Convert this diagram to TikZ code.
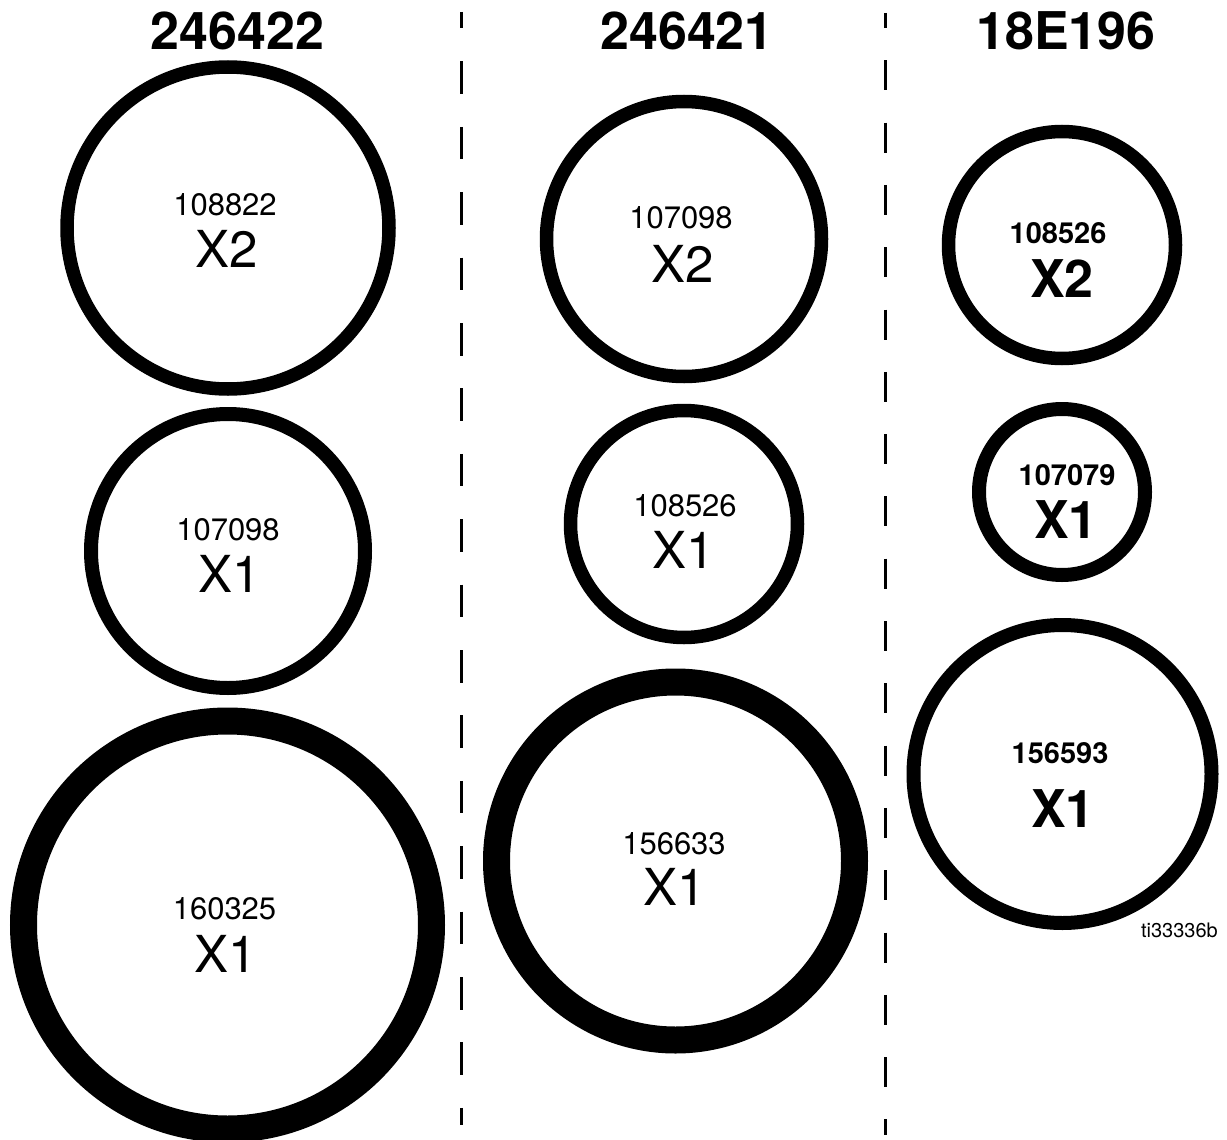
\documentclass[tikz,border=0pt]{standalone}
\usepackage{fontspec}
\setmainfont{TeX Gyre Heros}
\usetikzlibrary{positioning}

\begin{document}
\begin{tikzpicture}[x=1pt, y=-1pt]
\tikzstyle{ring}=[draw=black,circle,inner sep=0pt,line width=13.5pt]
\tikzstyle{heavyring}=[ring,line width=27pt]
\tikzstyle{kit}=[anchor=base,inner sep=0pt,font=\fontsize{52}{52}\selectfont\bfseries]
\tikzstyle{partno}=[anchor=base,inner sep=0pt,font=\fontsize{31}{31}\selectfont]
\tikzstyle{qty}=[anchor=base,inner sep=0pt,font=\fontsize{51}{51}\selectfont]
\tikzstyle{divider}=[draw=black,line width=3pt]
\useasboundingbox (0,0) rectangle (1227,1140);

% kit headings
\node[kit] (kitA) at (237.5,50) {246422};
\node[kit] (kitB) at (687,50) {246421};
\node[kit] (kitC) at (1066,50) {18E196};

% dividers
\coordinate (divAtop) at (461,12);
\coordinate (divAbot) at (461,1125);
\coordinate (divBtop) at (885,13);
\coordinate (divBbot) at (885,1135);
\draw[divider,dash pattern=on 32.5pt off 32.9pt,dash phase=16pt] (divAtop) -- (divAbot);
\draw[divider,dash pattern=on 30pt off 32.3pt,dash phase=15pt] (divBtop) -- (divBbot);

% kit 246422
\node[ring,minimum size=322pt] (ringA1) at (228,228) {};
\node[partno] (ringA1no) at (225,215) {108822};
\node[qty] (ringA1qty) at (227,267) {X2};
\node[ring,line width=14pt,minimum size=274pt] (ringA2) at (228,551) {};
\node[partno] (ringA2no) at (228,540) {107098};
\node[qty] (ringA2qty) at (230,592) {X1};
\node[heavyring,minimum size=408pt] (ringA3) at (227.5,925) {};
\node[partno] (ringA3no) at (224.5,919) {160325};
\node[qty] (ringA3qty) at (226,972) {X1};

% kit 246421
\node[ring,minimum size=275pt] (ringB1) at (684,239) {};
\node[partno] (ringB1no) at (681,228) {107098};
\node[qty] (ringB1qty) at (683,282) {X2};
\node[ring,minimum size=227pt] (ringB2) at (684,524) {};
\node[partno] (ringB2no) at (685,516) {108526};
\node[qty] (ringB2qty) at (683.5,568) {X1};
\node[heavyring,minimum size=358pt] (ringB3) at (675.5,861) {};
\node[partno] (ringB3no) at (674,854) {156633};
\node[qty] (ringB3qty) at (674.5,905) {X1};

% kit 18E196
\node[ring,minimum size=227pt] (ringC1) at (1062,245) {};
\node[partno,font=\fontsize{29}{29}\selectfont\bfseries] (ringC1no) at (1058,243) {108526};
\node[qty,font=\fontsize{52}{52}\selectfont\bfseries] (ringC1qty) at (1062,297) {X2};
\node[ring,line width=14pt,minimum size=166pt] (ringC2) at (1062,492) {};
\node[partno,font=\fontsize{29}{29}\selectfont\bfseries] (ringC2no) at (1067,485) {107079};
\node[qty,font=\fontsize{52}{52}\selectfont\bfseries] (ringC2qty) at (1066,538) {X1};
\node[ring,line width=14pt,minimum size=298pt] (ringC3) at (1062.5,774) {};
\node[partno,font=\fontsize{29}{29}\selectfont\bfseries] (ringC3no) at (1060,763) {156593};
\node[qty,font=\fontsize{52}{52}\selectfont\bfseries] (ringC3qty) at (1063,827) {X1};

\node[anchor=base east,inner sep=0pt,font=\fontsize{20}{20}\selectfont] (figref) at (1218,937) {ti33336b};
\end{tikzpicture}
\end{document}
